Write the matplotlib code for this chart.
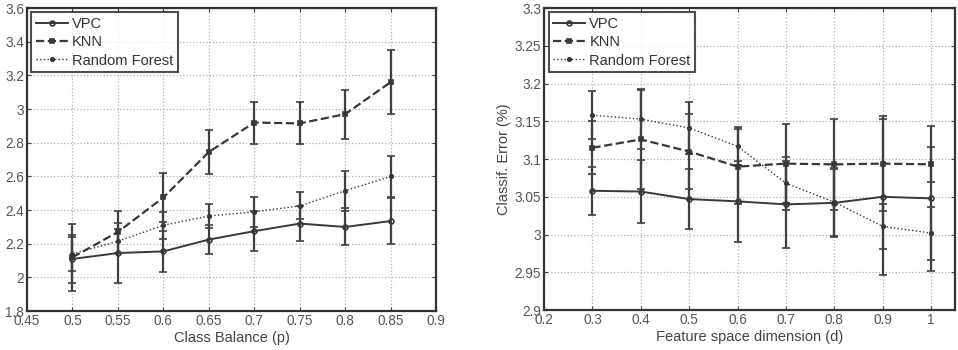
import numpy as np
import matplotlib
matplotlib.use("Agg")
import matplotlib.pyplot as plt
from matplotlib.lines import Line2D

plt.rcParams['font.family'] = ['Liberation Sans', 'DejaVu Sans']

# left panel: class balance
p_vals = [0.5, 0.55, 0.6, 0.65, 0.7, 0.75, 0.8, 0.85]
vpc_p = [2.11, 2.145, 2.155, 2.225, 2.275, 2.32, 2.30, 2.335]
vpc_p_err = [0.14, 0.18, 0.12, 0.085, 0.12, 0.105, 0.11, 0.135]
knn_p = [2.12, 2.27, 2.475, 2.745, 2.92, 2.915, 2.97, 3.16]
knn_p_err = [0.2, 0.125, 0.145, 0.13, 0.125, 0.125, 0.145, 0.19]
rf_p = [2.14, 2.215, 2.31, 2.365, 2.39, 2.425, 2.515, 2.60]
rf_p_err = [0.1, 0.07, 0.08, 0.07, 0.09, 0.08, 0.12, 0.12]

# right panel: feature space dimension
d_vals = [0.3, 0.4, 0.5, 0.6, 0.7, 0.8, 0.9, 1.0]
vpc_d = [3.058, 3.057, 3.047, 3.044, 3.040, 3.042, 3.050, 3.048]
vpc_d_err = [0.032, 0.042, 0.04, 0.054, 0.058, 0.045, 0.103, 0.096]
knn_d = [3.115, 3.126, 3.110, 3.090, 3.094, 3.093, 3.094, 3.093]
knn_d_err = [0.035, 0.065, 0.05, 0.05, 0.052, 0.06, 0.063, 0.023]
rf_d = [3.158, 3.153, 3.141, 3.117, 3.068, 3.043, 3.011, 3.002]
rf_d_err = [0.032, 0.04, 0.034, 0.025, 0.035, 0.045, 0.03, 0.035]

labels = ['VPC', 'KNN', 'Random Forest']
LC = '#383838'
STYLES = [('-', 'o', 1.4, 3.5), ('--', 's', 1.6, 3), (':', '.', 1.0, 5)]


def draw(ax, x, series, xlim, ylim, xticks, yticks, xticklabels, yticklabels, xlabel):
    handles = []
    for (y, e), lab, (ls, mk, lw, ms) in zip(series, labels, STYLES):
        mfc = 'none' if mk == 'o' else LC
        ax.errorbar(x, y, yerr=e, color=LC, ls=ls, lw=lw, marker=mk, ms=ms,
                    mfc=mfc, mew=1.2, elinewidth=1.6, capsize=3, capthick=1.4,
                    ecolor='#404040')
        handles.append(Line2D([], [], color=LC, ls=ls, lw=lw, marker=mk, ms=ms,
                              mfc=mfc, mew=1.2, label=lab))
    ax.set_xlim(xlim)
    ax.set_ylim(ylim)
    ax.set_xticks(xticks)
    ax.set_xticklabels(xticklabels)
    ax.set_yticks(yticks)
    ax.set_yticklabels(yticklabels)
    ax.grid(True, ls=':', color='#b0b0b0', lw=0.9)
    ax.tick_params(direction='in', labelsize=9.8, labelcolor='#555555',
                   top=True, right=True, length=3, color='#444444', pad=2)
    for s in ax.spines.values():
        s.set_linewidth(1.6)
        s.set_color('#333333')
    ax.set_xlabel(xlabel, fontsize=10.5, color='#444444', labelpad=2)
    leg = ax.legend(handles=handles, loc='upper left', fontsize=10.5,
                    frameon=True, fancybox=False, borderaxespad=0.3,
                    handlelength=2.2, handletextpad=0.3, labelspacing=0.3,
                    borderpad=0.3)
    leg.get_frame().set_edgecolor('#222222')
    leg.get_frame().set_linewidth(1.5)
    for t in leg.get_texts():
        t.set_color('#333333')


fig = plt.figure(figsize=(9.58, 3.5), dpi=100)
ax1 = fig.add_axes([0.0282, 0.111, 0.427, 0.866])
ax2 = fig.add_axes([0.568, 0.114, 0.429, 0.863])

xt1 = [0.45, 0.5, 0.55, 0.6, 0.65, 0.7, 0.75, 0.8, 0.85, 0.9]
yt1 = [1.8, 2.0, 2.2, 2.4, 2.6, 2.8, 3.0, 3.2, 3.4, 3.6]
draw(ax1, p_vals,
     [(vpc_p, vpc_p_err), (knn_p, knn_p_err), (rf_p, rf_p_err)],
     (0.45, 0.9), (1.8, 3.6), xt1, yt1,
     ['0.45', '0.5', '0.55', '0.6', '0.65', '0.7', '0.75', '0.8', '0.85', '0.9'],
     ['1.8', '2', '2.2', '2.4', '2.6', '2.8', '3', '3.2', '3.4', '3.6'],
     'Class Balance (p)')
ax1.set_ylabel('Classif. Error (%)', fontsize=10.5, color='#444444')
ax1.yaxis.set_label_coords(-0.09, 0.5)

xt2 = [0.2, 0.3, 0.4, 0.5, 0.6, 0.7, 0.8, 0.9, 1.0]
yt2 = [2.9, 2.95, 3.0, 3.05, 3.1, 3.15, 3.2, 3.25, 3.3]
draw(ax2, d_vals,
     [(vpc_d, vpc_d_err), (knn_d, knn_d_err), (rf_d, rf_d_err)],
     (0.2, 1.05), (2.9, 3.3), xt2, yt2,
     ['0.2', '0.3', '0.4', '0.5', '0.6', '0.7', '0.8', '0.9', '1'],
     ['2.9', '2.95', '3', '3.05', '3.1', '3.15', '3.2', '3.25', '3.3'],
     'Feature space dimension (d)')
ax2.set_ylabel('Classif. Error (%)', fontsize=10.5, color='#444444', labelpad=3)

fig.savefig('out.png', dpi=100)
